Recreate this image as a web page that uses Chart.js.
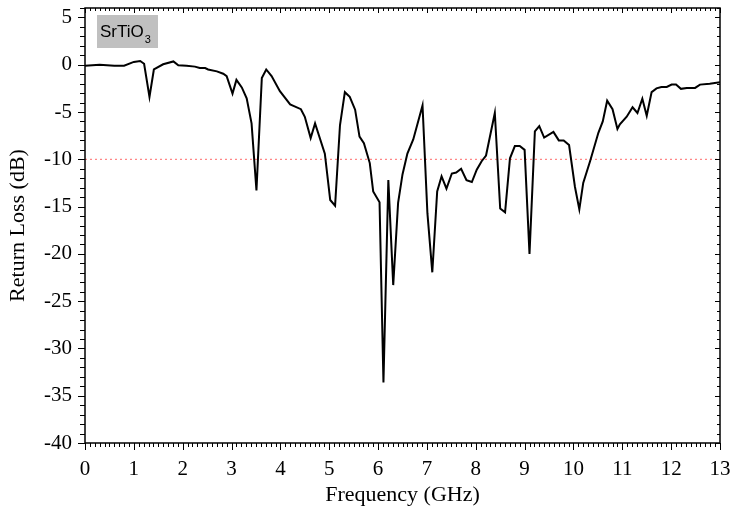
<!DOCTYPE html>
<html>
<head>
<meta charset="utf-8">
<script src="https://cdn.jsdelivr.net/npm/chart.js@4.4.1/dist/chart.umd.min.js"></script>
<style>
  body { margin: 0; background: #fff; }
  #wrap { width: 730px; height: 510px; }
</style>
</head>
<body>
<div id="wrap"><canvas id="myChart" width="730" height="510"></canvas></div>
<script>
// frequency (GHz) and return loss (dB)
var freq = [0, 0.3, 0.6, 0.8, 1.0, 1.13, 1.21, 1.32, 1.41, 1.6, 1.81, 1.91, 2.08, 2.25, 2.35, 2.46, 2.52, 2.7, 2.83, 2.9,
    3.02, 3.1, 3.21, 3.31, 3.41, 3.51, 3.62, 3.71, 3.82, 3.99, 4.2, 4.42, 4.5, 4.62, 4.71, 4.91, 5.02, 5.12, 5.22, 5.32,
    5.42, 5.53, 5.62, 5.71, 5.83, 5.9, 6.03, 6.11, 6.21, 6.31, 6.41, 6.5, 6.6, 6.72, 6.91, 7.01, 7.11, 7.21, 7.3, 7.4,
    7.51, 7.6, 7.7, 7.81, 7.92, 8.02, 8.12, 8.21, 8.39, 8.5, 8.6, 8.7, 8.8, 8.9, 9.0, 9.1, 9.21, 9.3, 9.4, 9.59,
    9.7, 9.8, 9.91, 10.03, 10.12, 10.2, 10.34, 10.51, 10.6, 10.69, 10.8, 10.9, 10.95, 11.09, 11.21, 11.31, 11.41, 11.5, 11.6, 11.7,
    11.8, 11.91, 12.01, 12.1, 12.2, 12.32, 12.49, 12.59, 12.79, 13.0];
var returnLoss = [-0.1, 0.0, -0.1, -0.1, 0.3, 0.4, 0.1, -3.4, -0.5, 0.05, 0.35, -0.05, -0.1, -0.2, -0.35, -0.35, -0.5, -0.7, -0.95, -1.2,
    -3.05, -1.6, -2.4, -3.55, -6.2, -13.3, -1.4, -0.5, -1.2, -2.8, -4.2, -4.7, -5.5, -7.75, -6.2, -9.4, -14.3, -14.9, -6.4, -2.9,
    -3.4, -4.75, -7.6, -8.3, -10.4, -13.4, -14.55, -33.6, -12.2, -23.3, -14.6, -11.6, -9.4, -7.9, -4.3, -15.7, -21.95, -13.4, -11.8, -13.1,
    -11.5, -11.4, -11.0, -12.2, -12.4, -11.1, -10.2, -9.6, -5.1, -15.2, -15.6, -9.9, -8.6, -8.6, -9.0, -20.0, -7.05, -6.5, -7.7, -7.1,
    -8.0, -8.0, -8.5, -12.9, -15.3, -12.5, -10.2, -7.2, -6.0, -3.8, -4.7, -6.8, -6.3, -5.5, -4.5, -5.1, -3.6, -5.4, -2.9, -2.5,
    -2.35, -2.35, -2.1, -2.1, -2.55, -2.45, -2.45, -2.1, -2.0, -1.85];
// -10 dB reference line
var refX = [0, 13];
var refY = [-10, -10];

var xTicks = [0, 1, 2, 3, 4, 5, 6, 7, 8, 9, 10, 11, 12, 13];
var yTicks = [5, 0, -5, -10, -15, -20, -25, -30, -35, -40];

var curve = freq.map(function(f, i) { return {x: f, y: returnLoss[i]}; });
var refLine = refX.map(function(f, i) { return {x: f, y: refY[i]}; });

// frame, minor ticks and the sample label
var decor = {
    id: 'decor',
    afterDraw: function(chart) {
        var ctx = chart.ctx;
        var a = chart.chartArea;
        var xs = chart.scales.x, ys = chart.scales.y;
        ctx.save();
        ctx.strokeStyle = '#000';
        ctx.lineWidth = 1;
        ctx.beginPath();
        for (var i = 0; i <= 130; i++) {
            var v = i / 10;
            var px = Math.round(xs.getPixelForValue(v)) + 0.5;
            var major = i % 10 === 0;
            ctx.moveTo(px, a.bottom);
            ctx.lineTo(px, a.bottom + (major ? 7 : 4));
            ctx.moveTo(px, a.top);
            ctx.lineTo(px, a.top + (major ? 5 : 3));
        }
        for (var j = -40; j <= 6; j++) {
            var py = Math.round(ys.getPixelForValue(j)) + 0.5;
            var maj = j % 5 === 0;
            ctx.moveTo(a.left, py);
            ctx.lineTo(a.left - (maj ? 7 : 5), py);
            ctx.moveTo(a.right, py);
            ctx.lineTo(a.right - (maj ? 5 : 3), py);
        }
        ctx.stroke();
        ctx.lineWidth = 1.5;
        ctx.strokeRect(a.left, a.top, a.right - a.left, a.bottom - a.top);

        // SrTiO3 label
        ctx.fillStyle = '#c0c0c0';
        ctx.fillRect(97, 15, 61, 33);
        ctx.fillStyle = '#000';
        ctx.font = '17px "Liberation Sans", Arial, sans-serif';
        ctx.textBaseline = 'alphabetic';
        ctx.fillText('SrTiO', 100, 37);
        var w = ctx.measureText('SrTiO').width;
        ctx.font = '11px "Liberation Sans", Arial, sans-serif';
        ctx.fillText('3', 100 + w + 1, 43);
        ctx.restore();
    }
};

var serif = '"Liberation Serif", "Times New Roman", serif';

var ctx = document.getElementById("myChart").getContext('2d');
var myChart = new Chart(ctx, {
    type: 'line',
    data: {
        datasets: [{
            data: curve,
            borderColor: '#000',
            borderWidth: 2,
            pointRadius: 0,
            tension: 0,
            fill: false
        }, {
            data: refLine,
            borderColor: 'rgba(255,90,90,0.9)',
            borderWidth: 1,
            borderDash: [2, 3],
            pointRadius: 0,
            fill: false
        }]
    },
    options: {
        responsive: false,
        animation: false,
        layout: { padding: { top: 8, right: 10, left: 0, bottom: 0 } },
        plugins: { legend: { display: false }, tooltip: { enabled: false } },
        scales: {
            x: {
                type: 'linear',
                min: 0,
                max: 13,
                afterBuildTicks: function(s) { s.ticks = xTicks.map(function(v) { return {value: v}; }); },
                afterFit: function(s) { s.height = 67; s.paddingLeft = 0; s.paddingRight = 0; },
                grid: { display: false },
                border: { display: false },
                ticks: { color: '#000', font: { family: serif, size: 21 }, padding: 6, maxRotation: 0 },
                title: { display: true, text: 'Frequency (GHz)', color: '#000', font: { family: serif, size: 22 }, padding: { top: 0, bottom: 2 } }
            },
            y: {
                type: 'linear',
                min: -40,
                max: 6,
                afterBuildTicks: function(s) { s.ticks = yTicks.map(function(v) { return {value: v}; }); },
                afterFit: function(s) { s.width = 85; s.paddingTop = 0; s.paddingBottom = 0; },
                grid: { display: false },
                border: { display: false },
                ticks: { color: '#000', font: { family: serif, size: 21 }, padding: 5 },
                title: { display: true, text: 'Return Loss (dB)', color: '#000', font: { family: serif, size: 22 }, padding: { top: 5, bottom: 0 } }
            }
        }
    },
    plugins: [decor]
});
</script>
</body>
</html>
